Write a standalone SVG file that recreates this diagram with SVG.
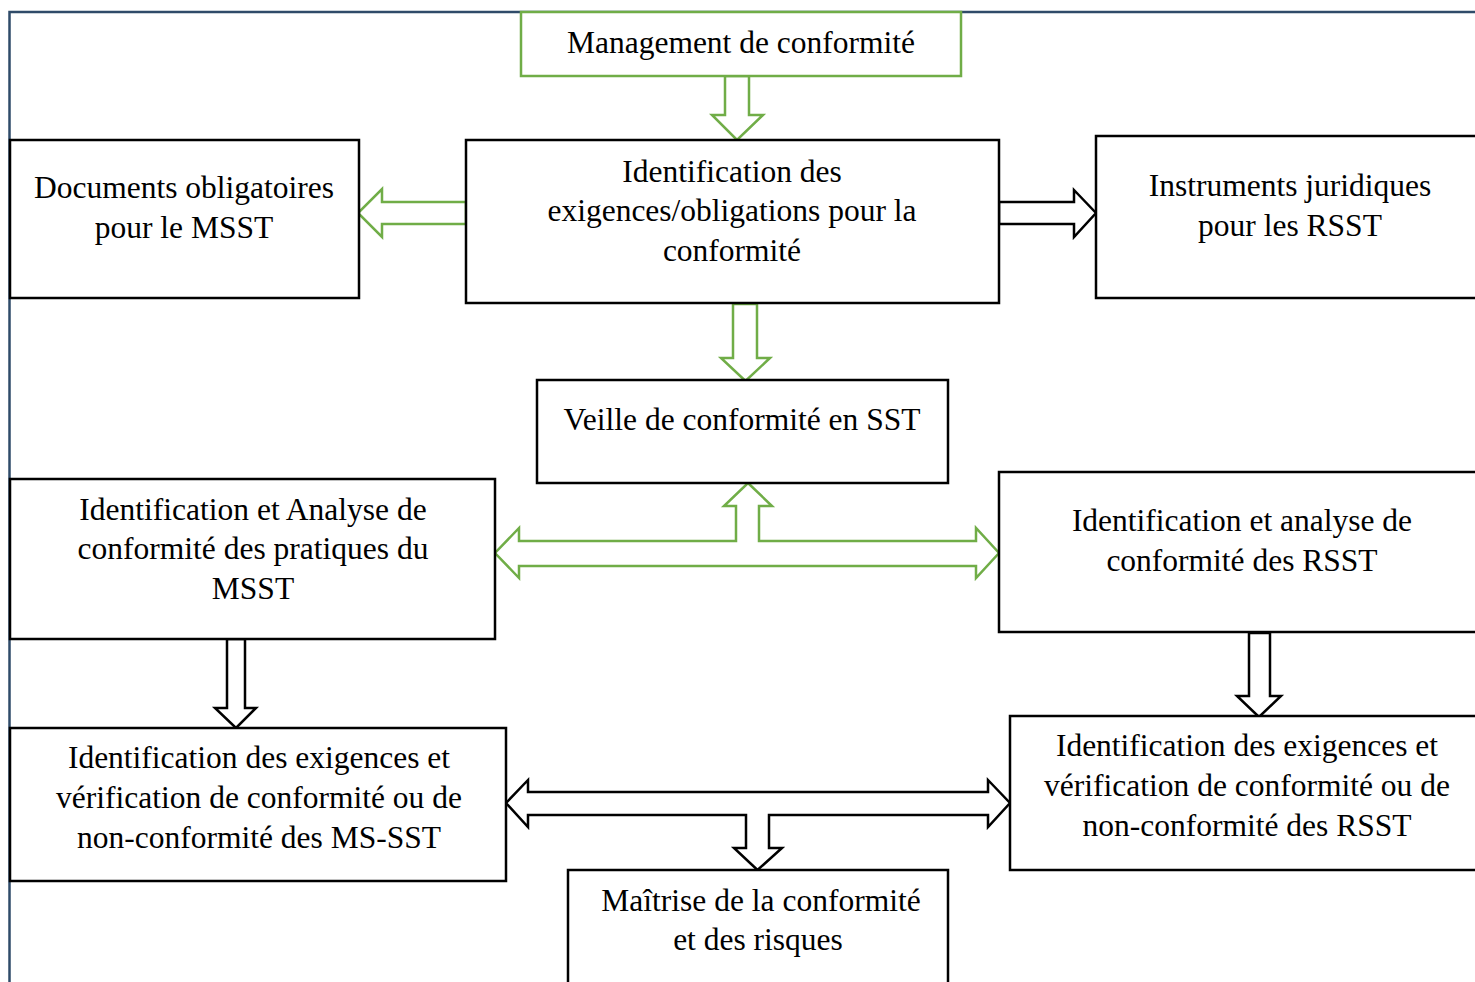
<svg xmlns="http://www.w3.org/2000/svg" width="1475" height="982" viewBox="0 0 1475 982">
<style>
.box{fill:#fff;stroke:#000;stroke-width:2.5}
.gbox{fill:#fff;stroke:#70ad47;stroke-width:2.5}
.garr{fill:#fff;stroke:#70ad47;stroke-width:2.5;stroke-linejoin:miter}
.barr{fill:#fff;stroke:#000;stroke-width:2.5;stroke-linejoin:miter}
text{font-family:"Liberation Serif","Times New Roman",serif;font-size:31.5px;fill:#000;text-anchor:middle}
</style>
<rect width="1475" height="982" fill="#fff"/>
<path d="M9.5,982 V12 H1475" fill="none" stroke="#2f4b69" stroke-width="2.5"/>
<g id="connectors">
<polygon class="garr" points="725,76 749,76 749,115 763,115 737,140 712,115 725,115"/>
<polygon class="garr" points="466,202 466,224 382,224 382,237 358,213 382,189 382,202"/>
<polygon class="barr" points="999,202 1074,202 1074,190 1096,213 1074,237 1074,224 999,224"/>
<polygon class="garr" points="733,304 757,304 757,358 770,358 745.5,381 721,358 733,358"/>
<polygon class="garr" points="748,483 772,506 759,506 759,541 976,541 976,528 999,553 976,578 976,566 519,566 519,578 495,553 519,528 519,541 736,541 736,506 724,506"/>
<polygon class="barr" points="227,639 245,639 245,708 256,708 236,728 215,708 227,708"/>
<polygon class="barr" points="1249,633 1270,633 1270,696 1281,696 1259,717 1237,696 1249,696"/>
<polygon class="barr" points="506,803 528,780 528,792 988,792 988,780 1010,803 988,827 988,815 769,815 769,848 782,848 757.5,870 734,848 746,848 746,815 528,815 528,827"/>
</g>
<g id="n1"><rect class="gbox" x="521" y="12" width="440" height="64"/><text x="741" y="53">Management de conformité</text></g>
<g id="n2"><rect class="box" x="466" y="140" width="533" height="163"/><text x="732" y="182">Identification des</text><text x="732" y="221">exigences/obligations pour la</text><text x="732" y="261">conformité</text></g>
<g id="n3"><rect class="box" x="10" y="140" width="349" height="158"/><text x="184" y="198">Documents obligatoires</text><text x="184" y="238">pour le MSST</text></g>
<g id="n4"><rect class="box" x="1096" y="136" width="382" height="162"/><text x="1290" y="196">Instruments juridiques</text><text x="1290" y="236">pour les RSST</text></g>
<g id="n5"><rect class="box" x="537" y="380" width="411" height="103"/><text x="742" y="430">Veille de conformité en SST</text></g>
<g id="n6"><rect class="box" x="10" y="479" width="485" height="160"/><text x="253" y="520">Identification et Analyse de</text><text x="253" y="559">conformité des pratiques du</text><text x="253" y="599">MSST</text></g>
<g id="n7"><rect class="box" x="999" y="472" width="479" height="160"/><text x="1242" y="531">Identification et analyse de</text><text x="1242" y="571">conformité des RSST</text></g>
<g id="n8"><rect class="box" x="10" y="728" width="496" height="153"/><text x="259" y="768">Identification des exigences et</text><text x="259" y="808">vérification de conformité ou de</text><text x="259" y="848">non-conformité des MS-SST</text></g>
<g id="n9"><rect class="box" x="1010" y="716" width="468" height="154"/><text x="1247" y="756">Identification des exigences et</text><text x="1247" y="796">vérification de conformité ou de</text><text x="1247" y="836">non-conformité des RSST</text></g>
<g id="n10"><rect class="box" x="568" y="870" width="380" height="115"/><text x="761" y="911">Maîtrise de la conformité</text><text x="758" y="950">et des risques</text></g>
</svg>
